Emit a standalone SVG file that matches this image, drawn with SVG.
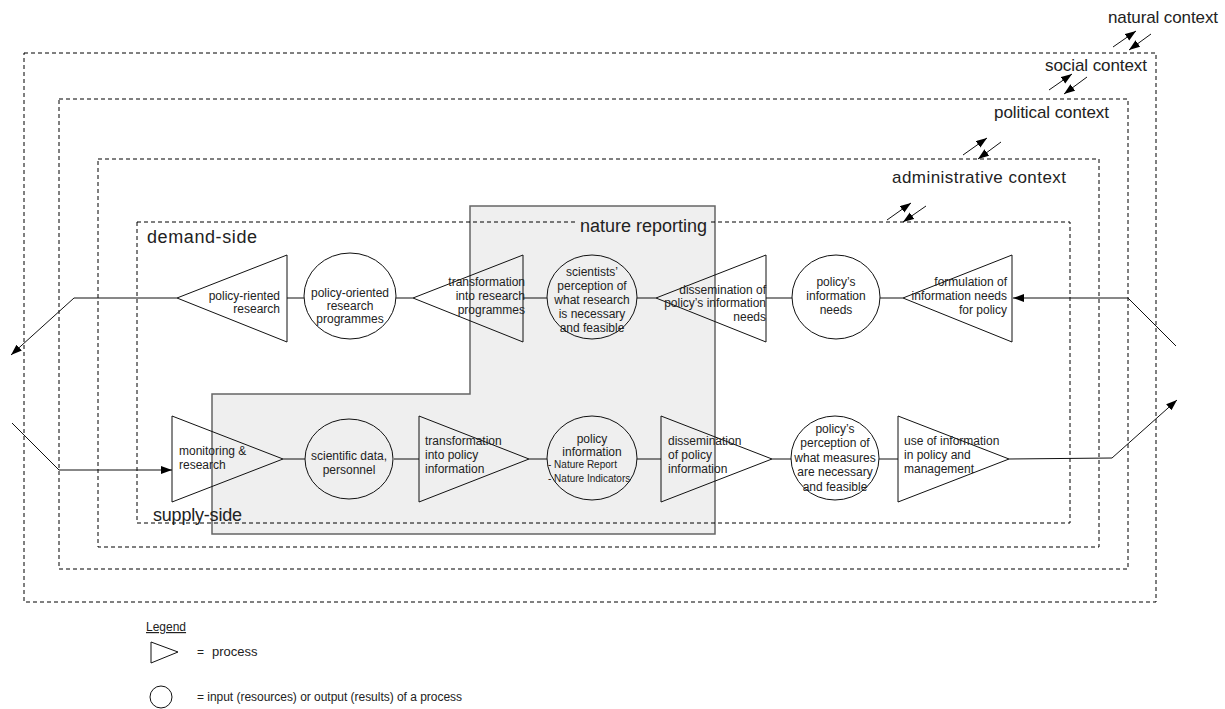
<svg xmlns="http://www.w3.org/2000/svg" width="1225" height="709" viewBox="0 0 1225 709">
  <defs>
    <marker id="arrow" markerUnits="userSpaceOnUse" markerWidth="12" markerHeight="10" refX="11" refY="4" orient="auto">
      <path d="M0,0 L11,4 L0,8 z" fill="#000"/>
    </marker>
    <style>
      text { font-family: "Liberation Sans", Arial, sans-serif; fill: #222; }
      .ctx { font-size: 17px; }
      .side { font-size: 18px; }
      .n { font-size: 12px; }
      .s { font-size: 10px; }
      .leg { font-size: 12px; }
      .dash { fill: none; stroke: #000; stroke-width: 1; stroke-dasharray: 4 3; }
      .shape { fill: none; stroke: #111; stroke-width: 1; }
      .conn { fill: none; stroke: #111; stroke-width: 1; }
      .ctxarrow { fill: none; stroke: #111; stroke-width: 1; marker-end: url(#arrow); }
      .end { text-anchor: end; }
      .mid { text-anchor: middle; }
    </style>
  </defs>

  <rect width="1225" height="709" fill="#fff"/>

  <!-- nature reporting area -->
  <g id="nature-reporting">
    <path d="M470,206 H715 V534 H212 V394 H470 Z" fill="#efefef" stroke="#666" stroke-width="1.5"/>
  </g>

  <!-- nested context frames -->
  <g id="contexts">
    <rect class="dash" x="24" y="53" width="1132" height="549"/>
    <rect class="dash" x="59" y="99" width="1069" height="470"/>
    <rect class="dash" x="98" y="159" width="1001" height="388"/>
    <rect class="dash" x="137" y="222" width="933" height="301"/>
    <rect x="578" y="214" width="131" height="16" fill="#efefef"/>
    <text class="side" x="580" y="232" textLength="127">nature reporting</text>
    <text class="ctx" x="1108" y="23" textLength="110">natural context</text>
    <text class="ctx" x="1045" y="71" textLength="102">social context</text>
    <text class="ctx" x="994" y="118" textLength="115">political context</text>
    <text class="ctx" x="892" y="183" textLength="174">administrative context</text>
    <text class="side" x="147" y="243" textLength="110">demand-side</text>
    <text class="side" x="153" y="521" textLength="89">supply-side</text>
  </g>

  <!-- exchanges between context levels -->
  <g id="context-arrows">
    <line class="ctxarrow" x1="1113" y1="47" x2="1136" y2="31"/>
    <line class="ctxarrow" x1="1151" y1="34" x2="1129" y2="50"/>
    <line class="ctxarrow" x1="1049" y1="90" x2="1072" y2="74"/>
    <line class="ctxarrow" x1="1087" y1="77" x2="1064" y2="94"/>
    <line class="ctxarrow" x1="963" y1="155" x2="987" y2="138"/>
    <line class="ctxarrow" x1="1001" y1="142" x2="978" y2="159"/>
    <line class="ctxarrow" x1="887" y1="220" x2="911" y2="203"/>
    <line class="ctxarrow" x1="926" y1="206" x2="903" y2="222"/>
  </g>

  <!-- flows between processes and resources -->
  <g id="connectors">
    <polyline class="conn" points="177,298 74,298 11,355" marker-end="url(#arrow)"/>
    <line class="conn" x1="287" y1="298" x2="304" y2="298"/>
    <line class="conn" x1="396" y1="298" x2="413" y2="298"/>
    <line class="conn" x1="523" y1="298" x2="547" y2="298"/>
    <line class="conn" x1="637" y1="298" x2="656" y2="298"/>
    <line class="conn" x1="766" y1="298" x2="792" y2="298"/>
    <line class="conn" x1="880" y1="298" x2="903" y2="298"/>
    <polyline class="conn" points="1176,346 1128,298 1013,298" marker-end="url(#arrow)"/>

    <polyline class="conn" points="12,423 59,470 172,470" marker-end="url(#arrow)"/>
    <line class="conn" x1="283" y1="459" x2="305" y2="459"/>
    <line class="conn" x1="394" y1="459" x2="419" y2="459"/>
    <line class="conn" x1="529" y1="459" x2="547" y2="459"/>
    <line class="conn" x1="637" y1="459" x2="661" y2="459"/>
    <line class="conn" x1="772" y1="459" x2="791" y2="459"/>
    <line class="conn" x1="879" y1="459" x2="898" y2="459"/>
    <polyline class="conn" points="1009,459 1112,458 1177,400" marker-end="url(#arrow)"/>
  </g>

  <!-- demand side -->
  <g id="policy-oriented-research">
    <polygon class="shape" points="177,298 287,255 287,342"/>
    <text class="n end" x="280" y="300">policy-riented</text>
    <text class="n end" x="280" y="313">research</text>
  </g>
  <g id="research-programmes">
    <ellipse class="shape" cx="350" cy="296" rx="46" ry="43"/>
    <text class="n mid" x="350" y="297">policy-oriented</text>
    <text class="n mid" x="350" y="310">research</text>
    <text class="n mid" x="350" y="323">programmes</text>
  </g>
  <g id="transformation-research">
    <polygon class="shape" points="413,298 523,255 523,342"/>
    <text class="n end" x="525" y="286">transformation</text>
    <text class="n end" x="525" y="300">into research</text>
    <text class="n end" x="525" y="314">programmes</text>
  </g>
  <g id="scientists-perception">
    <ellipse class="shape" cx="592" cy="297" rx="45" ry="42"/>
    <text class="n mid" x="592" y="276">scientists’</text>
    <text class="n mid" x="592" y="290">perception of</text>
    <text class="n mid" x="592" y="304">what research</text>
    <text class="n mid" x="592" y="318">is necessary</text>
    <text class="n mid" x="592" y="332">and feasible</text>
  </g>
  <g id="dissemination-needs">
    <polygon class="shape" points="656,298 766,255 766,342"/>
    <text class="n end" x="766" y="294">dissemination of</text>
    <text class="n end" x="766" y="307">policy’s information</text>
    <text class="n end" x="766" y="321">needs</text>
  </g>
  <g id="information-needs">
    <ellipse class="shape" cx="836" cy="297" rx="44" ry="42"/>
    <text class="n mid" x="836" y="286">policy’s</text>
    <text class="n mid" x="836" y="300">information</text>
    <text class="n mid" x="836" y="314">needs</text>
  </g>
  <g id="formulation-needs">
    <polygon class="shape" points="903,298 1012,255 1012,342"/>
    <text class="n end" x="1007" y="286">formulation of</text>
    <text class="n end" x="1007" y="300">information needs</text>
    <text class="n end" x="1007" y="314">for policy</text>
  </g>

  <!-- supply side -->
  <g id="monitoring-research">
    <polygon class="shape" points="172,416 172,502 283,459"/>
    <text class="n" x="179" y="455">monitoring &amp;</text>
    <text class="n" x="179" y="469">research</text>
  </g>
  <g id="scientific-data">
    <ellipse class="shape" cx="349" cy="459" rx="44" ry="40"/>
    <text class="n mid" x="349" y="460">scientific data,</text>
    <text class="n mid" x="349" y="474">personnel</text>
  </g>
  <g id="transformation-policy">
    <polygon class="shape" points="419,416 419,502 529,459"/>
    <text class="n" x="425" y="445">transformation</text>
    <text class="n" x="425" y="459">into policy</text>
    <text class="n" x="425" y="473">information</text>
  </g>
  <g id="policy-information">
    <ellipse class="shape" cx="592" cy="458" rx="45" ry="42"/>
    <text class="n mid" x="592" y="443">policy</text>
    <text class="n mid" x="592" y="456">information</text>
    <text class="s" x="548" y="468">- Nature Report</text>
    <text class="s" x="548" y="482">- Nature Indicators</text>
  </g>
  <g id="dissemination-policy">
    <polygon class="shape" points="661,416 661,502 772,459"/>
    <text class="n" x="668" y="445">dissemination</text>
    <text class="n" x="668" y="459">of policy</text>
    <text class="n" x="668" y="473">information</text>
  </g>
  <g id="policy-perception">
    <ellipse class="shape" cx="835" cy="458" rx="44" ry="42"/>
    <text class="n mid" x="835" y="433">policy’s</text>
    <text class="n mid" x="835" y="447">perception of</text>
    <text class="n mid" x="835" y="462">what measures</text>
    <text class="n mid" x="835" y="476">are necessary</text>
    <text class="n mid" x="835" y="491">and feasible</text>
  </g>
  <g id="use-of-information">
    <polygon class="shape" points="898,416 898,502 1009,459"/>
    <text class="n" x="904" y="445">use of information</text>
    <text class="n" x="904" y="459">in policy and</text>
    <text class="n" x="904" y="473">management</text>
  </g>

  <!-- legend -->
  <g id="legend">
    <text x="146" y="631" font-size="12" text-decoration="underline">Legend</text>
    <polygon class="shape" points="151,642 151,663 178,652"/>
    <text class="leg" x="197" y="656">= <tspan x="212" font-size="13">process</tspan></text>
    <ellipse class="shape" cx="161" cy="697" rx="11" ry="11"/>
    <text class="leg" x="197" y="701" textLength="265">= input (resources) or output (results) of a process</text>
  </g>
</svg>
